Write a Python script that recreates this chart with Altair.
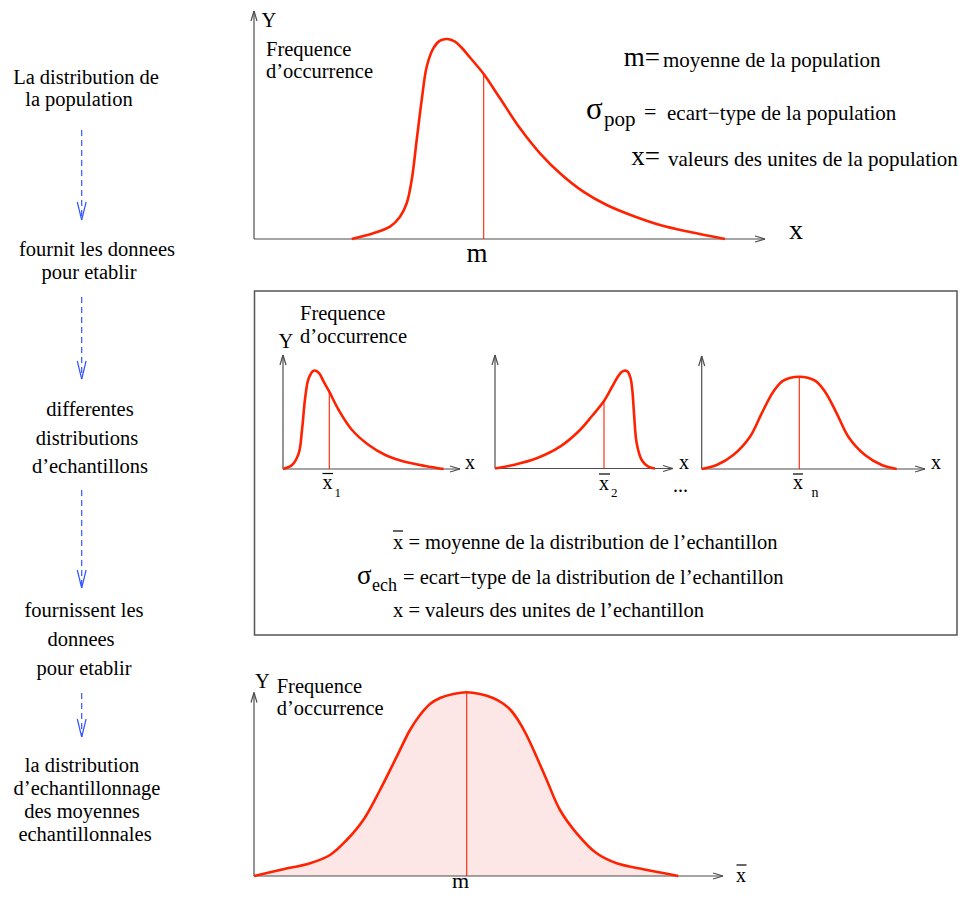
import altair as alt
import pandas as pd

FONT = "Liberation Serif"
RED = "#ff2200"
AXIS = "#4d4d4d"
BLUE = "#3355ff"
PINK = "#fde6e6"

# ---------------- curves (figure pixel units) ----------------
pop_x = [351.7, 373.3, 390, 400, 406.7, 411.7, 416.7, 421.7, 426.7, 433.3, 440, 447.3, 455,
         461.5, 470, 483.7, 500, 520, 540, 560, 583.3, 606.7, 633.3, 660, 690, 725]
pop_y = [239, 233.3, 226.7, 216.7, 203.3, 180, 140, 100, 66.7, 48.3, 40.7, 39, 41.7,
         47.5, 57.5, 74, 98.3, 128.3, 153.3, 173.3, 191.7, 205, 216, 225, 232, 239]

s1_x = [283, 292, 298.7, 302, 305.3, 308.7, 313.7, 318.7, 323.7, 329.3, 338.7, 352, 368.7,
        385.3, 402, 425.3, 443.7]
s1_y = [469, 465, 453.3, 430, 396.7, 378.3, 370.7, 372.7, 381.7, 391.7, 410, 430, 445,
        455, 461, 466, 469]

s2_x = [495, 513.3, 536.7, 560, 580, 592, 604, 612, 617, 621, 624, 627.5, 630.5, 632.5,
        634, 636.7, 641.7, 648.3, 655]
s2_y = [468.5, 465, 458.3, 446.7, 430, 416, 401, 387, 378, 372.5, 370.7, 371.5, 378, 392,
        413.3, 443.3, 460, 466.7, 468.5]

s3_x = [701.7, 716.7, 733.3, 750, 761.7, 773.3, 783.3, 799.3, 815, 825, 836.7, 848.3, 865,
        881.7, 896.7]
s3_y = [469, 465, 455, 436.7, 413.3, 391.7, 380.7, 376.7, 380.7, 391.7, 413.3, 436.7, 455,
        465, 469]

sm_x = [254, 283.3, 310, 330, 346.7, 363.3, 380, 396.7, 410, 420, 430, 440, 453.3, 466.7,
        480, 493, 503, 511, 518, 526, 534, 546.7, 560, 576.7, 596.7, 616.7, 643.3, 678.3]
sm_y = [876, 869.3, 863.3, 855, 840, 820, 790, 756.7, 730, 715, 704, 698, 694, 692.3,
        694, 698, 703.5, 710.5, 720, 734, 751, 780, 810, 833.3, 853.3, 863.3, 869.3, 876]

# mean markers: (x, axis y, curve y)
mean_x = [483.7, 329.3, 604, 799.3, 466.7]
mean_base = [239, 469, 468.5, 469, 876]
mean_top = [74, 391.7, 401, 376.7, 692.3]

# panel axes: origin x, origin y, y-axis top, x-axis end
ax_ox = [254, 283, 495, 701.7, 254]
ax_oy = [239, 469, 468.5, 469, 876]
ax_top = [11, 355, 355, 356, 692.5]
ax_end = [765, 460, 673, 925, 723]

# flow arrows on the left: x, start, tip
flow_x = [81.7, 81.7, 81.7, 81.7]
flow_start = [130, 297, 490, 693]
flow_tip = [220, 379, 588, 737]

# overbars: x1, x2, y
bar_x1 = [322.5, 599, 793, 736.5, 393]
bar_x2 = [333, 610, 803, 746.5, 403]
bar_y = [473.5, 474, 474, 865, 531]

# middle box (right edge sits on the drawing's right border)
box = {"x": [254.5], "x2": [957], "y": [291], "y2": [635]}

# ---------------- texts ----------------
left_col = [
    ("La distribution de", 86, 78), ("la population", 79, 100),
    ("fournit les donnees", 97, 250), ("pour etablir", 89, 273),
    ("differentes", 90, 410), ("distributions", 87, 439), ("d’echantillons", 90, 467),
    ("fournissent les", 84, 611), ("donnees", 81, 640), ("pour etablir", 84, 669),
    ("la distribution", 82, 766), ("d’echantillonnage", 87, 789),
    ("des moyennes", 82, 812), ("echantillonnales", 85, 835),
]
labels_mid = [
    ("Y", 261.5, 21), ("Frequence", 266, 50), ("d’occurrence", 266, 72),
    ("Y", 278.5, 342), ("Frequence", 300, 314), ("d’occurrence", 300, 337),
    ("Y", 255, 682), ("Frequence", 276.7, 687), ("d’occurrence", 276.7, 709),
]
labels_base = [
    ("moyenne de la population", 663, 67, 21),
    ("σ", 586, 119, 31), ("pop", 604, 126, 21), ("=", 644, 119, 22),
    ("ecart−type de la population", 667, 120, 21),
    ("valeurs des unites de la population", 668, 166, 21),
    ("x = moyenne de la distribution de l’echantillon", 393, 549, 20.5),
    ("σ", 357, 584, 27), ("ech", 372, 591, 18),
    ("= ecart−type de la distribution de l’echantillon", 403, 584, 20.5),
    ("x = valeurs des unites de l’echantillon", 393, 617, 20.5),
    ("x", 322.5, 489, 20), ("1", 334.5, 497, 13),
    ("x", 599, 490, 20), ("2", 611, 497, 13),
    ("x", 793, 489, 20), ("n", 811.5, 497, 14),
    ("...", 673, 492, 20),
    ("x", 465, 469, 20), ("x", 679, 469, 20), ("x", 931, 469, 20),
    ("x", 789, 239, 28), ("x", 736, 882, 20),
    ("m", 466.5, 262, 27), ("m", 452, 888, 22),
]
labels_right = [("m=", 660, 66, 27), ("x=", 660, 165, 27)]

# ---------------- build tables ----------------
curves = pd.concat([
    pd.DataFrame({"x": xs, "y": ys, "c": name})
    for name, xs, ys in [("pop", pop_x, pop_y), ("s1", s1_x, s1_y), ("s2", s2_x, s2_y),
                         ("s3", s3_x, s3_y), ("sm", sm_x, sm_y)]
])
fill = pd.DataFrame({"x": sm_x, "y": sm_y, "base": [876] * len(sm_x)})
means = pd.DataFrame({"x": mean_x, "y": mean_base, "x2": mean_x, "y2": mean_top})

ax_rows = []
AL, AW = 10, 3
for ox, oy, top, end in zip(ax_ox, ax_oy, ax_top, ax_end):
    ax_rows += [
        (ox, oy, ox, top), (ox, oy, end, oy),
        (ox - AW, top + AL, ox, top), (ox + AW, top + AL, ox, top),
        (end - AL, oy - AW, end, oy), (end - AL, oy + AW, end, oy),
    ]
axes_df = pd.DataFrame(ax_rows, columns=["x", "y", "x2", "y2"])

flow_dash = pd.DataFrame({"x": flow_x, "y": flow_start, "x2": flow_x, "y2": flow_tip})
head_rows = []
HL, HW = 18, 4.4
for fx, tip in zip(flow_x, flow_tip):
    head_rows += [(fx - HW, tip - HL, fx, tip), (fx + HW, tip - HL, fx, tip)]
flow_head = pd.DataFrame(head_rows, columns=["x", "y", "x2", "y2"])

bars = pd.DataFrame({"x": bar_x1, "x2": bar_x2, "y": bar_y, "y2": bar_y})
box_df = pd.DataFrame(box)

t_left = pd.DataFrame(left_col, columns=["text", "x", "y"]).assign(size=20.5)
t_mid = pd.DataFrame(labels_mid, columns=["text", "x", "y"]).assign(size=20.5)
t_base = pd.DataFrame(labels_base, columns=["text", "x", "y", "size"])
t_right = pd.DataFrame(labels_right, columns=["text", "x", "y", "size"])

# ---------------- chart ----------------
xs = alt.Scale(domain=[8, 958], nice=False, zero=False)
ys = alt.Scale(domain=[8, 893], nice=False, zero=False, reverse=True)
X = alt.X("x:Q", scale=xs, axis=None)
Y = alt.Y("y:Q", scale=ys, axis=None)


def segs(df, color, width, dash=None):
    kw = dict(color=color, strokeWidth=width)
    if dash:
        kw["strokeDash"] = dash
    return alt.Chart(df).mark_rule(**kw).encode(x=X, y=Y, x2="x2:Q", y2="y2:Q")


def texts(df, align, baseline):
    return alt.Chart(df).mark_text(align=align, baseline=baseline, font=FONT, color="black").encode(
        x=X, y=Y, text="text:N", size=alt.Size("size:Q", scale=None, legend=None))


area = alt.Chart(fill).mark_area(color=PINK, interpolate="catmull-rom").encode(
    x=X, y=Y, y2="base:Q")
lines = alt.Chart(curves).mark_line(color=RED, strokeWidth=2.6, interpolate="catmull-rom").encode(
    x=X, y=Y, detail="c:N")
boxm = alt.Chart(box_df).mark_rect(filled=False, stroke="#555555", strokeWidth=1.5).encode(
    x=X, y=Y, x2="x2:Q", y2="y2:Q")

chart = alt.layer(
    boxm,
    area,
    segs(axes_df, AXIS, 1.2),
    segs(means, RED, 1.1),
    lines,
    segs(flow_dash, BLUE, 1.2, [6, 4]),
    segs(flow_head, BLUE, 1.2),
    segs(bars, "black", 1.2),
    texts(t_left, "center", "middle"),
    texts(t_mid, "left", "middle"),
    texts(t_base, "left", "alphabetic"),
    texts(t_right, "right", "alphabetic"),
).properties(
    width=950, height=885, padding=0, autosize=alt.AutoSizeParams(type="none")
).configure_view(stroke=None)

chart.save("out.html", embed_options={"renderer": "svg", "actions": False})
